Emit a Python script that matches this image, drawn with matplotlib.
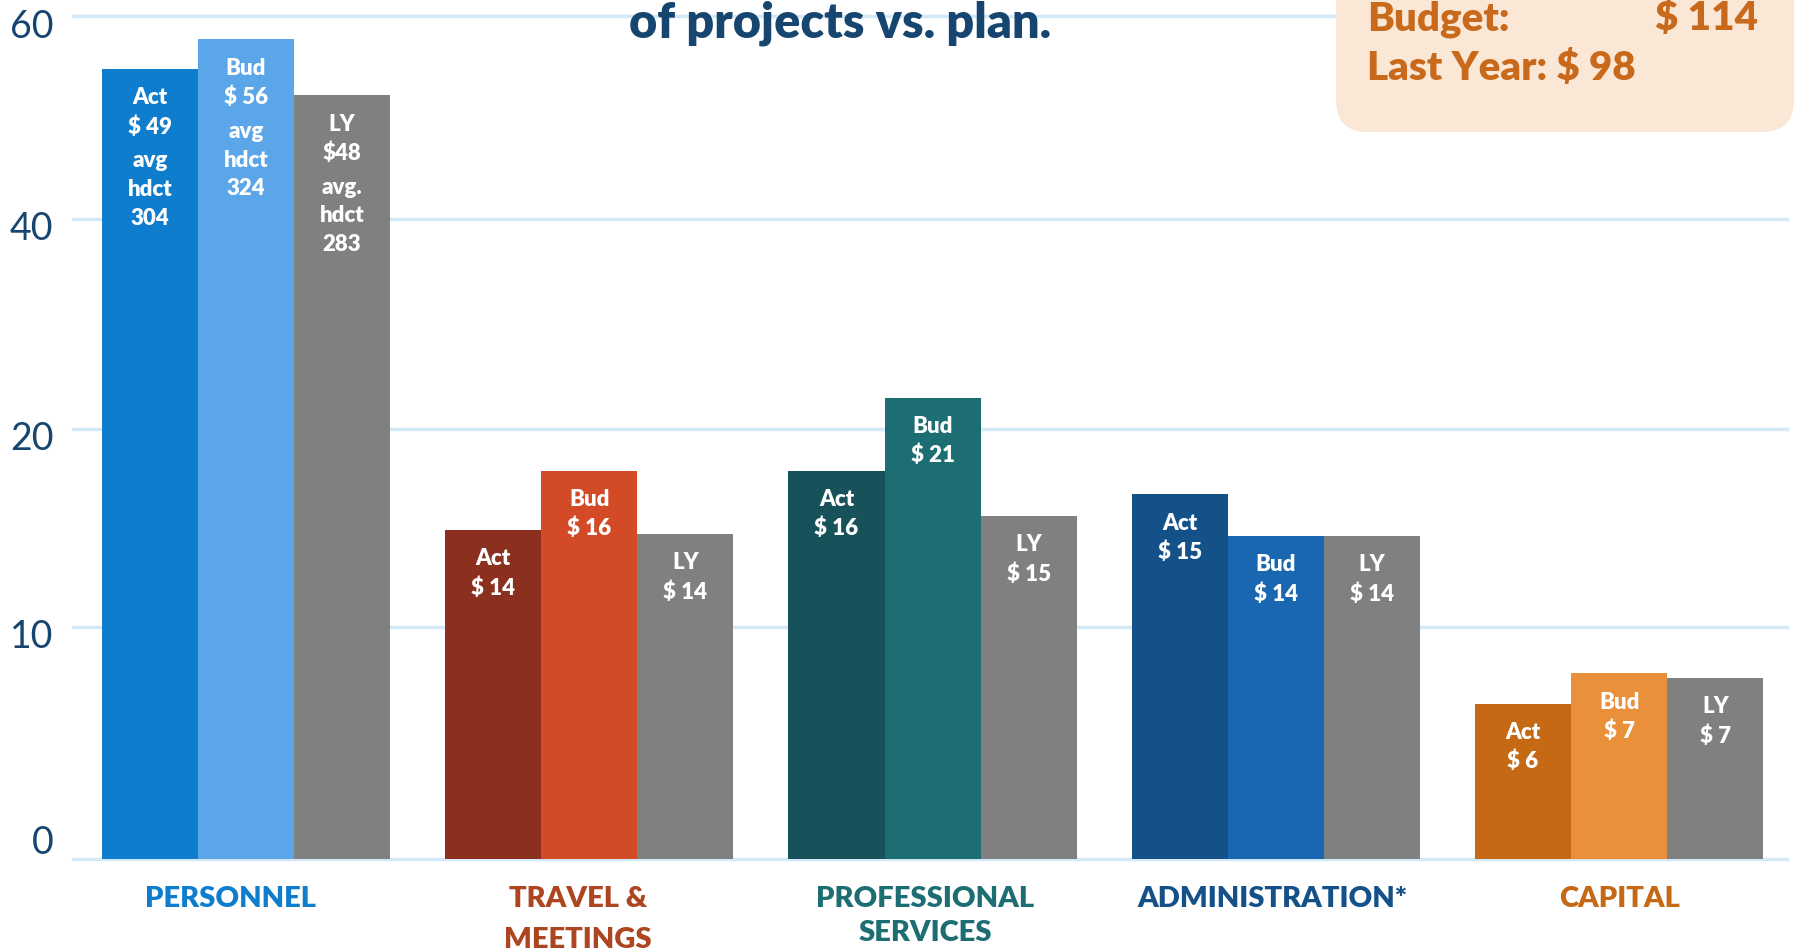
import matplotlib.pyplot as plt
import numpy as np
from matplotlib import transforms
from matplotlib.patches import FancyBboxPatch

plt.rcParams['font.family'] = ['Lato', 'DejaVu Sans']

# categories and bar heights as read on the (unevenly spaced) value axis
categories = ["PERSONNEL", "TRAVEL &\nMEETINGS", "PROFESSIONAL\nSERVICES", "ADMINISTRATION*", "CAPITAL"]
actual = [54.8, 14.9, 17.9, 16.7, 6.7]
budget = [57.7, 17.9, 23.0, 14.6, 8.0]
last_year = [52.2, 14.7, 15.6, 14.6, 7.8]

# text printed inside the bars
act_text = ["Act\n$ 49", "Act\n$ 14", "Act\n$ 16", "Act\n$ 15", "Act\n$ 6"]
bud_text = ["Bud\n$ 56", "Bud\n$ 16", "Bud\n$ 21", "Bud\n$ 14", "Bud\n$ 7"]
ly_text = ["LY\n$48", "LY\n$ 14", "LY\n$ 15", "LY\n$ 14", "LY\n$ 7"]
# headcount notes (personnel only)
act_note = ["avg\nhdct\n304", "", "", "", ""]
bud_note = ["avg\nhdct\n324", "", "", "", ""]
ly_note = ["avg.\nhdct\n283", "", "", "", ""]

budget_total = 114
last_year_total = 98

# the printed axis: ticks 0,10,20,40,60 drawn at nearly even spacing
yticks = [0, 10, 20, 40, 60]
ytick_pos = [0, 232, 430, 640, 843]

act_colors = ['#0f7dcd', '#8b2f1f', '#17525a', '#145189', '#c56914']
bud_colors = ['#5ba6e8', '#d34a27', '#1c6e73', '#1967b0', '#ea8f3a']
ly_color = '#808080'
label_colors = ['#0f7dcd', '#ad4520', '#1c6e73', '#145189', '#c56914']
navy = '#16456f'
grid_blue = '#d3e9f7'
orange = '#c8691b'


def fwd(v):
    return np.interp(v, yticks, ytick_pos)


def inv(p):
    return np.interp(p, ytick_pos, yticks)


fig = plt.figure(figsize=(17.94, 9.53), dpi=100)
ax = fig.add_axes([73 / 1794, 93 / 953, 1714 / 1794, 843 / 953])
ax.set_yscale('function', functions=(fwd, inv))

x = np.arange(len(categories))
w = 0.28
groups = [
    (x - w, actual, act_colors, act_text, act_note),
    (x, budget, bud_colors, bud_text, bud_note),
    (x + w, last_year, [ly_color] * len(x), ly_text, ly_note),
]
txt_style = dict(textcoords='offset points', ha='center', va='top', color='white',
                 fontsize=16, fontweight='heavy', linespacing=1.45, zorder=3)
for xs, vals, cols, texts, notes in groups:
    ax.bar(xs + 0.015, vals, w, color=cols, zorder=2)
    for xi, v, t, n in zip(xs + 0.015, vals, texts, notes):
        ax.annotate(t, (xi, v), xytext=(0, -12.5), **txt_style)
        if n:
            ax.annotate(n, (xi, v), xytext=(0, -58), **txt_style)

ax.set_xlim(-0.489, 4.504)
ax.set_ylim(0, 60)
ax.set_yticks(yticks)
ax.set_xticks(x * 1.011 - 0.029, categories)

ax.yaxis.grid(True, color=grid_blue, linewidth=2.5)
ax.set_axisbelow(True)
for gl in ax.get_ygridlines():
    gl.set_clip_on(False)
for s in ax.spines.values():
    s.set_visible(False)

ax.tick_params(axis='y', length=0, pad=14, labelsize=27, labelcolor=navy)
ax.tick_params(axis='x', length=0, pad=19, labelsize=21)

for lbl, c in zip(ax.get_xticklabels(), label_colors):
    lbl.set_color(c)
    lbl.set_fontweight('heavy')
    lbl.set_linespacing(1.7 if lbl.get_text().startswith('TRAVEL') else 1.35)

for lbl in ax.get_yticklabels():
    dy = 0.2 if lbl.get_text() == '0' else -0.06
    lbl.set_transform(lbl.get_transform() + transforms.ScaledTranslation(0, dy, fig.dpi_scale_trans))

# overlay in pixel units for the title and the summary box
ov = fig.add_axes([0, 0, 1, 1])
ov.set_xlim(0, 1794)
ov.set_ylim(953, 0)
ov.axis('off')

ov.text(840, 37, "of projects vs. plan.", ha='center', va='baseline',
        fontsize=35, fontweight='heavy', color=navy)

box = FancyBboxPatch((1336, -100), 458, 233, boxstyle="round,pad=0,rounding_size=32",
                     facecolor='#fae7d6', edgecolor='none')
ov.add_patch(box)
ov.text(1367, 30, "Budget:", fontsize=29, fontweight='heavy', color=orange, va='baseline')
ov.text(1655, 30, f"$ {budget_total}", fontsize=29, fontweight='heavy', color=orange, va='baseline')
ov.text(1367, 80, f"Last Year: $ {last_year_total}", fontsize=29, fontweight='heavy',
        color=orange, va='baseline')

fig.savefig('out.png', dpi=100)
